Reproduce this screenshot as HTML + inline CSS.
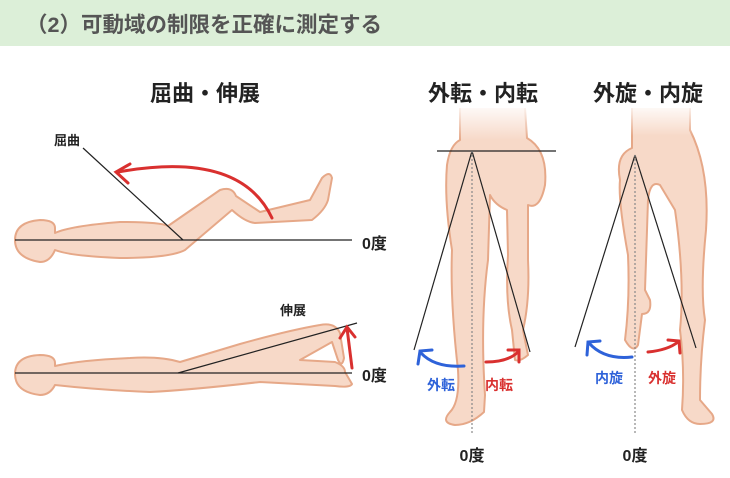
<!DOCTYPE html>
<html><head><meta charset="utf-8"><style>
body{margin:0;width:730px;height:473px;background:#fff;overflow:hidden;font-family:"Liberation Sans","Noto Sans CJK JP",sans-serif}
</style></head><body>
<svg width="730" height="473" xmlns="http://www.w3.org/2000/svg" font-family="Liberation Sans, Noto Sans CJK JP, sans-serif">
<defs>
<linearGradient id="fade" x1="0" y1="0" x2="0" y2="1"><stop offset="0" stop-color="#fff" stop-opacity="0.95"/><stop offset="1" stop-color="#fff" stop-opacity="0"/></linearGradient>
</defs>
<rect x="0" y="0" width="730" height="46" fill="#dcefd8"/>
<text x="26" y="32" font-size="21.5" font-weight="bold" fill="#555">（2）可動域の制限を正確に測定する</text>
<g font-weight="bold" fill="#222" font-size="22" text-anchor="middle">
<text x="205" y="101">屈曲・伸展</text>
<text x="483" y="101">外転・内転</text>
<text x="648" y="101">外旋・内旋</text>
</g>
<g fill="#f7d9c8" stroke="#e6a888" stroke-width="2" stroke-linejoin="round">
<path d="M40,220 Q55,220 55,228 L55,233 Q70,226 120,222 Q160,222 168,226 L220,190 Q232,186 236,196 L260,212 L310,200 L322,178 Q330,170 332,178 L328,200 Q325,210 312,220 L255,223 Q245,222 232,210 L185,250 Q170,258 120,258 Q70,256 55,250 Q50,262 40,262 Q15,258 15,240 Q15,222 40,220Z"/>
<path d="M40,355 Q55,355 55,363 L55,366 Q80,360 130,358 Q160,356 180,362 L240,344 Q290,330 320,325 Q335,322 340,333 L344,358 Q342,368 338,360 L332,342 L300,360 L335,362 Q345,366 345,372 L352,384 Q350,388 335,386 L260,382 Q190,390 150,392 Q100,390 55,385 Q50,395 40,395 Q15,392 15,374 Q15,356 40,355Z"/>
<path d="M460,108 L460,140 Q450,145 447,165 Q444,200 452,250 Q450,300 458,370 Q460,402 450,412 Q440,423 455,425 Q470,425 484,412 L485,395 Q480,320 488,260 L490,195 Q495,205 507,210 L508,255 Q505,300 512,330 L515,360 Q520,362 528,355 L523,330 Q530,300 528,260 L528,205 Q540,210 545,185 Q548,150 527,138 L525,108"/>
<path d="M632,108 L632,148 Q615,155 620,180 Q618,200 628,255 Q630,300 625,340 Q633,354 638,345 L642,314 Q652,314 650,300 L645,290 L648,200 Q650,180 660,185 L675,210 Q685,280 680,330 Q685,370 682,410 Q688,424 700,424 Q718,424 712,414 L700,400 Q700,360 705,320 Q700,290 706,230 Q710,170 690,130 L690,108"/>
</g>
<rect x="440" y="104" width="110" height="36" fill="url(#fade)"/>
<rect x="615" y="104" width="95" height="32" fill="url(#fade)"/>
<g stroke="#222" stroke-width="1.2" fill="none">
<line x1="15" y1="240" x2="352" y2="240"/>
<line x1="83" y1="148" x2="183" y2="240"/>
<line x1="15" y1="373" x2="352" y2="373"/>
<line x1="178" y1="373" x2="357" y2="323"/>
<line x1="437" y1="151" x2="556" y2="151"/>
<line x1="472" y1="151" x2="414" y2="350"/>
<line x1="472" y1="151" x2="530" y2="352"/>
<line x1="635" y1="155" x2="575" y2="347"/>
<line x1="635" y1="155" x2="696" y2="348"/>
<line x1="472" y1="151" x2="472" y2="435" stroke="#888" stroke-dasharray="2,2"/>
<line x1="635" y1="155" x2="635" y2="435" stroke="#888" stroke-dasharray="2,2"/>
</g>
<g fill="none" stroke-width="3" stroke-linecap="round">
<path d="M272,218 Q240,150 118,172" stroke="#d9302f"/>
<path d="M130,164 L116,172 L128,183" stroke="#d9302f"/>
<path d="M352,368 L347,328" stroke="#d9302f"/>
<path d="M340,338 L347,327 L355,337" stroke="#d9302f"/>
<path d="M464,366 Q435,368 421,353" stroke="#2e62d9"/>
<path d="M418,364 L420,351 L432,350" stroke="#2e62d9"/>
<path d="M486,362 Q508,362 518,352" stroke="#d9302f"/>
<path d="M508,350 L519,350 L519,362" stroke="#d9302f"/>
<path d="M632,357 Q604,360 589,343" stroke="#2e62d9"/>
<path d="M587,355 L588,342 L600,341" stroke="#2e62d9"/>
<path d="M648,352 Q668,350 678,342" stroke="#d9302f"/>
<path d="M668,340 L679,341 L680,353" stroke="#d9302f"/>
</g>
<g font-weight="bold" font-size="14">
<text x="54" y="145" fill="#222" font-size="13">屈曲</text>
<text x="280" y="315" fill="#222" font-size="13">伸展</text>
<text x="362" y="249" fill="#222" font-size="16">0度</text>
<text x="362" y="381" fill="#222" font-size="16">0度</text>
<text x="427" y="390" fill="#2e62d9">外転</text>
<text x="485" y="390" fill="#d9302f">内転</text>
<text x="595" y="383" fill="#2e62d9">内旋</text>
<text x="648" y="383" fill="#d9302f">外旋</text>
<text x="472" y="461" fill="#222" font-size="16" text-anchor="middle">0度</text>
<text x="635" y="461" fill="#222" font-size="16" text-anchor="middle">0度</text>
</g>
</svg>
</body></html>
